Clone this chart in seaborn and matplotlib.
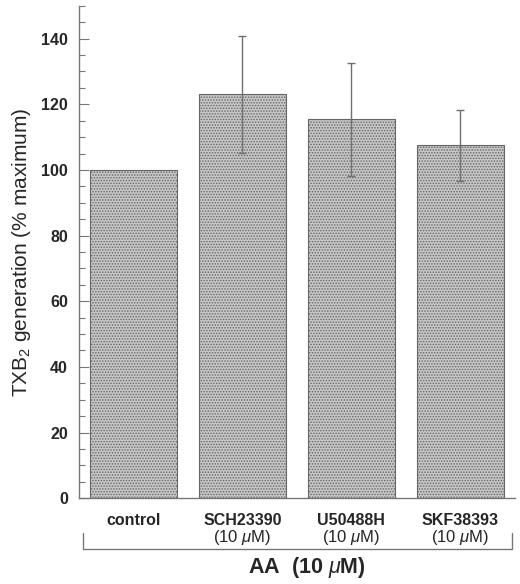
import numpy as np
import pandas as pd
import matplotlib
matplotlib.use('Agg')
import matplotlib.pyplot as plt
import seaborn as sns

# data
groups = ['control', 'SCH23390', 'U50488H', 'SKF38393']
sub_labels = ['', r'(10 $\mu$M)', r'(10 $\mu$M)', r'(10 $\mu$M)']
txb2 = [100, 123, 115.5, 107.5]
sem = [0, 17.8, 17.2, 10.8]

sns.set_style('ticks')
plt.rcParams['font.family'] = ['Liberation Sans', 'DejaVu Sans']
plt.rcParams['mathtext.fontset'] = 'custom'
plt.rcParams['mathtext.rm'] = 'Liberation Sans'
plt.rcParams['mathtext.it'] = 'Liberation Sans:italic'
plt.rcParams['mathtext.bf'] = 'Liberation Sans:bold'
plt.rcParams['mathtext.bfit'] = 'Liberation Sans:bold:italic'
plt.rcParams['hatch.linewidth'] = 0.7

df = pd.DataFrame({'group': groups, 'value': txb2})

fig = plt.figure(figsize=(5.2, 5.84), dpi=100)
ax = fig.add_axes([0.152, 0.147, 0.838, 0.843])

sns.barplot(data=df, x='group', y='value', ax=ax, width=0.8,
            color='#c6c6c6', edgecolor='#666666', linewidth=0.8,
            hatch='......', saturation=1)

ax.errorbar(range(1, 4), txb2[1:], yerr=sem[1:], fmt='none',
            ecolor='#707070', elinewidth=1.0, capsize=3, capthick=1.0)

ax.set_xlim(-0.5, 3.5)
ax.set_ylim(0, 150)
ax.set_yticks(np.arange(0, 141, 20))
ax.set_yticks(np.arange(0, 151, 5), minor=True)
ax.tick_params(axis='y', which='major', direction='in', length=7, width=0.8,
               color='#777777', labelsize=11.5, pad=8)
ax.tick_params(axis='y', which='minor', direction='in', length=4, width=0.8,
               color='#777777')
for t in ax.get_yticklabels():
    t.set_fontweight('bold')

ax.tick_params(axis='x', length=0, labelsize=11.5, pad=11)
for t in ax.get_xticklabels():
    t.set_fontweight('bold')
ax.set_xlabel('')

for i, s in enumerate(sub_labels):
    if s:
        ax.text(i, -0.079, s, transform=ax.get_xaxis_transform(),
                ha='center', va='center', fontsize=12)

ax.set_ylabel('TXB$_2$ generation (% maximum)', fontsize=15)
ax.yaxis.set_label_coords(-0.105, 0.5)

for sp in ['top', 'right']:
    ax.spines[sp].set_visible(False)
for sp in ['left', 'bottom']:
    ax.spines[sp].set_color('#777777')
    ax.spines[sp].set_linewidth(1.0)

# bracket under group labels
bx = [83 / 520, 83 / 520, 512 / 520, 512 / 520]
by = [1 - 533 / 584, 1 - 549 / 584, 1 - 549 / 584, 1 - 533 / 584]
fig.add_artist(plt.Line2D(bx, by, transform=fig.transFigure,
                          color='#777777', linewidth=1.0))
fig.text(307 / 520, 1 - 567 / 584, r'AA  (10 $\mu$M)', ha='center',
         va='center', fontsize=15.5, fontweight='bold')

fig.savefig('out.png', dpi=100)
